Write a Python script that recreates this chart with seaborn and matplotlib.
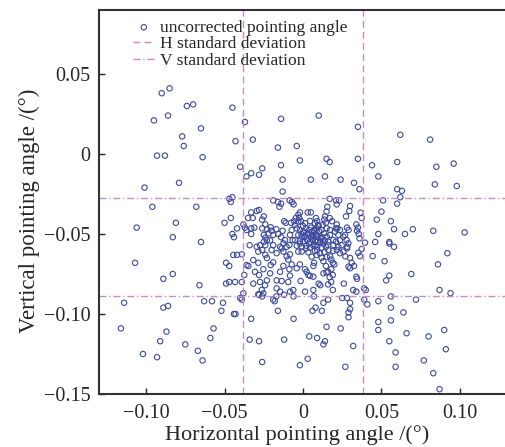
import numpy as np
import pandas as pd
import matplotlib
matplotlib.use("Agg")
import matplotlib.pyplot as plt
from matplotlib.ticker import FuncFormatter
import seaborn as sns

upper_left = [(-0.090, 0.038), (-0.085, 0.041), (-0.074, 0.030), (-0.070, 0.031), (-0.095, 0.021),
              (-0.086, 0.024), (-0.065, 0.016), (-0.077, 0.011), (-0.076, 0.005), (-0.093, -0.001),
              (-0.088, -0.001), (-0.064, -0.002), (-0.045, 0.029)]
upper_mid = [(-0.037, 0.020), (-0.014, 0.022), (0.010, 0.024), (0.035, 0.017), (-0.043, 0.008),
             (-0.032, 0.009), (-0.016, 0.004), (-0.004, 0.005), (-0.002, -0.004), (0.015, -0.003),
             (0.017, -0.005), (0.035, -0.003), (-0.014, -0.007), (-0.040, -0.008), (-0.026, -0.009),
             (-0.036, -0.014), (-0.033, -0.012), (-0.028, -0.013), (-0.013, -0.016), (0.005, -0.016),
             (0.014, -0.014), (0.024, -0.016), (0.044, -0.007), (0.048, -0.014)]
upper_right = [(0.062, 0.012), (0.081, 0.009), (0.060, -0.005), (0.085, -0.008), (0.096, -0.006)]
mid_left = [(-0.101, -0.021), (-0.079, -0.018), (-0.096, -0.033), (-0.068, -0.033), (-0.047, -0.028),
            (-0.045, -0.027), (-0.046, -0.030), (-0.106, -0.046), (-0.081, -0.043), (-0.046, -0.040),
            (-0.050, -0.043), (-0.083, -0.052), (-0.065, -0.055), (-0.045, -0.050), (-0.044, -0.052),
            (-0.107, -0.068), (-0.049, -0.068), (-0.047, -0.070), (-0.083, -0.075), (-0.089, -0.078),
            (-0.066, -0.082), (-0.049, -0.081), (-0.047, -0.080)]
low_left = [(-0.114, -0.093), (-0.089, -0.096), (-0.086, -0.095), (-0.063, -0.092), (-0.058, -0.092),
            (-0.051, -0.093), (-0.052, -0.098), (-0.044, -0.100), (-0.116, -0.109), (-0.087, -0.111),
            (-0.057, -0.109), (-0.091, -0.117), (-0.059, -0.115), (-0.075, -0.119), (-0.067, -0.123),
            (-0.102, -0.125), (-0.093, -0.127), (-0.064, -0.129)]
low_mid = [(-0.040, -0.090), (-0.039, -0.091), (-0.043, -0.100), (-0.033, -0.103), (-0.018, -0.092),
           (-0.019, -0.091), (-0.016, -0.098), (-0.026, -0.089), (-0.028, -0.088), (-0.017, -0.089),
           (-0.012, -0.088), (-0.006, -0.103), (0.007, -0.089), (0.006, -0.098), (0.008, -0.096),
           (0.012, -0.098), (0.013, -0.093), (0.016, -0.091), (0.025, -0.090), (0.028, -0.090),
           (0.030, -0.093), (0.030, -0.097), (0.029, -0.099), (0.029, -0.102), (0.039, -0.091),
           (0.041, -0.094), (0.048, -0.092), (0.048, -0.105), (0.048, -0.110), (0.015, -0.108),
           (0.024, -0.109), (-0.034, -0.116), (-0.028, -0.117), (-0.012, -0.116), (0.004, -0.114),
           (0.009, -0.115), (0.014, -0.117), (0.013, -0.119), (0.032, -0.120), (-0.026, -0.130),
           (0.003, -0.128), (-0.002, -0.132), (0.027, -0.133), (-0.006, -0.089)]
low_right = [(0.056, -0.089), (0.072, -0.091), (0.056, -0.096), (0.064, -0.099), (0.056, -0.104),
             (0.066, -0.112), (0.090, -0.110), (0.080, -0.114), (0.055, -0.117), (0.091, -0.122),
             (0.059, -0.124), (0.077, -0.129), (0.059, -0.133), (0.083, -0.137), (0.087, -0.147)]
mid_right = [(0.084, -0.019), (0.098, -0.020), (0.060, -0.022), (0.063, -0.023), (0.051, -0.029),
             (0.062, -0.027), (0.060, -0.031), (0.050, -0.036), (0.047, -0.041), (0.056, -0.042),
             (0.058, -0.047), (0.070, -0.047), (0.083, -0.048), (0.103, -0.049), (0.048, -0.050),
             (0.065, -0.050), (0.055, -0.055), (0.055, -0.056), (0.058, -0.058), (0.046, -0.055),
             (0.092, -0.062), (0.052, -0.067), (0.086, -0.069), (0.055, -0.076), (0.053, -0.079),
             (0.069, -0.075), (0.087, -0.085), (0.094, -0.087)]
centre_top = [(0.0325, -0.018), (0.036, -0.022), (-0.013, -0.0235), (-0.019, -0.029), (-0.016, -0.030),
              (-0.014, -0.031), (-0.015, -0.033), (-0.0085, -0.029), (-0.007, -0.030), (-0.006, -0.0315),
              (0.0155, -0.033), (0.017, -0.028), (0.021, -0.029), (0.023, -0.029), (0.0215, -0.0315),
              (0.030, -0.0325), (-0.028, -0.035), (-0.0295, -0.0356), (-0.033, -0.0365), (-0.025, -0.039),
              (-0.026, -0.041), (-0.035, -0.040), (-0.032, -0.040), (-0.042, -0.0465), (-0.038, -0.044),
              (-0.037, -0.046), (-0.036, -0.0475), (-0.033, -0.0465), (-0.031, -0.046), (-0.033, -0.050),
              (-0.024, -0.044), (-0.023, -0.047), (-0.026, -0.0465), (0.015, -0.036), (0.0295, -0.0356),
              (0.0274, -0.039), (0.0374, -0.040), (0.0367, -0.0367)]
centre_mid = [(-0.025, -0.0506), (-0.024, -0.0523), (-0.022, -0.0496), (-0.0206, -0.0458), (-0.020, -0.048),
              (-0.019, -0.0506), (-0.021, -0.054), (-0.017, -0.047), (-0.0157, -0.050), (-0.014, -0.052),
              (-0.013, -0.048), (-0.012, -0.042), (-0.011, -0.043), (-0.0076, -0.043), (-0.0057, -0.042),
              (-0.0046, -0.040), (-0.003, -0.038), (-0.0019, -0.0365), (-0.0024, -0.040), (-0.0013, -0.042),
              (0.003, -0.0365), (0.005, -0.0365), (0.0083, -0.040), (0.009, -0.042), (0.014, -0.039),
              (0.0136, -0.041), (0.0146, -0.043), (0.017, -0.040), (0.0185, -0.042), (0.0215, -0.044),
              (0.021, -0.0465), (0.034, -0.044), (0.035, -0.046), (0.0344, -0.048), (0.0355, -0.050),
              (0.036, -0.0527), (0.028, -0.046), (0.029, -0.0475), (0.0395, -0.0554), (0.0444, -0.0638),
              (0.0374, -0.0594), (0.0352, -0.0617), (0.0363, -0.0638), (0.0257, -0.061), (0.027, -0.064),
              (0.028, -0.059), (0.0246, -0.057), (0.021, -0.0548), (0.0225, -0.058), (0.0236, -0.062),
              (0.0193, -0.0606), (-0.034, -0.057), (-0.0295, -0.058), (-0.0274, -0.057), (-0.026, -0.060),
              (-0.0285, -0.061), (-0.019, -0.057), (-0.020, -0.060), (-0.0168, -0.062), (-0.0146, -0.058),
              (-0.0136, -0.059), (-0.0125, -0.061), (-0.0104, -0.064), (-0.0083, -0.0627), (-0.0094, -0.066),
              (-0.024, -0.057), (-0.023, -0.054), (-0.025, -0.055), (-0.042, -0.063), (-0.039, -0.0627),
              (-0.0444, -0.0631)]
centre_core = [(-0.004, -0.0465), (-0.0019, -0.0475), (0.0002, -0.0485), (0.0019, -0.0465), (0.004, -0.0475),
               (0.0055, -0.049), (0.007, -0.0475), (0.0087, -0.0465), (0.0104, -0.0485), (0.0119, -0.0475),
               (0.0134, -0.0496), (-0.003, -0.0506), (-0.0008, -0.0517), (0.0013, -0.0511), (0.0034, -0.0502),
               (0.0051, -0.0517), (0.0066, -0.0511), (0.0083, -0.0502), (0.0097, -0.0517), (0.0113, -0.0527),
               (0.0151, -0.0517), (0.0172, -0.0506), (-0.0051, -0.0538), (-0.0019, -0.0544), (0.0002, -0.0548),
               (0.0027, -0.0538), (0.0045, -0.0548), (0.0062, -0.0538), (0.0078, -0.0548), (0.0094, -0.0542),
               (0.0108, -0.0554), (0.0129, -0.0544), (0.0161, -0.0548), (0.0193, -0.0538), (-0.004, -0.0573),
               (-0.0008, -0.058), (0.0019, -0.0573), (0.0045, -0.0585), (0.0066, -0.0573), (0.0091, -0.058),
               (0.0119, -0.0585), (0.0146, -0.058), (-0.0008, -0.061), (0.0034, -0.0614), (0.0076, -0.0606),
               (0.0108, -0.0621), (0.0055, -0.0642), (-0.0051, -0.0444), (-0.003, -0.0423), (0.0013, -0.0433),
               (0.0045, -0.0419), (0.0076, -0.0433), (0.0097, -0.0444), (0.0125, -0.0444), (0.0151, -0.0465),
               (0.0172, -0.0475), (-0.0072, -0.0475), (-0.0083, -0.0506), (-0.0066, -0.0538), (-0.0087, -0.0569),
               (-0.0115, -0.0538), (-0.0125, -0.0558), (-0.0104, -0.058), (0.0204, -0.0485), (0.0225, -0.0506),
               (0.0236, -0.0538), (0.0257, -0.0517), (0.0193, -0.0569), (0.0215, -0.060), (0.0278, -0.0538),
               (0.0289, -0.0558), (0.0282, -0.058), (0.0268, -0.0506), (0.0236, -0.0475), (0.0219, -0.0465),
               (0.0087, -0.0631), (0.0119, -0.0648), (0.0151, -0.0642), (0.0136, -0.0614), (0.0161, -0.060),
               (0.001, -0.052), (0.003, -0.050), (0.006, -0.053), (0.009, -0.051), (0.012, -0.052),
               (-0.002, -0.056), (0.004, -0.056), (0.008, -0.057), (0.011, -0.055), (0.014, -0.054),
               (0.000, -0.045), (0.005, -0.046), (0.010, -0.045), (-0.001, -0.050), (0.007, -0.048),
               (0.013, -0.056), (0.002, -0.059), (0.009, -0.060), (0.016, -0.057), (-0.003, -0.061)]
centre_low = [(0.030, -0.065), (0.031, -0.068), (0.0325, -0.070), (0.029, -0.0704), (0.030, -0.0714),
              (0.034, -0.0767), (0.0344, -0.078), (0.026, -0.081), (0.032, -0.085), (0.034, -0.086),
              (0.039, -0.084), (0.040, -0.085), (0.0172, -0.064), (0.018, -0.066), (0.019, -0.068),
              (0.020, -0.069), (0.018, -0.072), (0.016, -0.0736), (0.013, -0.067), (0.0146, -0.070),
              (0.015, -0.074), (0.013, -0.0746), (0.017, -0.077), (0.018, -0.080), (0.019, -0.0756),
              (0.007, -0.068), (0.0066, -0.070), (0.0034, -0.0756), (0.011, -0.082), (0.010, -0.081),
              (0.016, -0.0815), (0.019, -0.085), (0.0066, -0.0767), (0.0013, -0.072), (0.0023, -0.0736),
              (-0.002, -0.069), (-0.004, -0.0714), (-0.0072, -0.069), (-0.0087, -0.072), (-0.0125, -0.070),
              (-0.0146, -0.0736), (-0.019, -0.0677), (-0.0206, -0.0694), (-0.023, -0.065), (-0.024, -0.063),
              (-0.0317, -0.0663), (-0.036, -0.0694), (-0.0285, -0.068), (-0.0253, -0.072), (-0.0306, -0.0736),
              (-0.028, -0.0756), (-0.021, -0.0746), (-0.0374, -0.0756), (-0.0348, -0.070), (-0.0317, -0.081),
              (-0.0274, -0.080), (-0.0242, -0.082), (-0.023, -0.079), (-0.0168, -0.079), (-0.0136, -0.0794),
              (-0.0094, -0.080), (-0.0083, -0.076), (-0.0015, -0.0794), (0.0045, -0.0762), (-0.0168, -0.084),
              (-0.0146, -0.086), (-0.0083, -0.086), (-0.0062, -0.085), (0.0013, -0.086), (0.0066, -0.085),
              (-0.0263, -0.085), (-0.0253, -0.0871), (-0.0285, -0.0877), (-0.039, -0.080), (-0.038, -0.087),
              (-0.0433, -0.080)]

# mean +/- std lines
h_std_lines = [-0.0382, 0.0382]
v_std_lines = [-0.0277, -0.0888]

x_ticks = [-0.10, -0.05, 0, 0.05, 0.10]
y_ticks = [-0.15, -0.10, -0.05, 0, 0.05]

groups = [upper_left, upper_mid, upper_right, mid_left, low_left, low_mid, low_right,
          mid_right, centre_top, centre_mid, centre_core, centre_low]
pts = [p for g in groups for p in g]
df = pd.DataFrame(pts, columns=["h", "v"])

sns.set_style("ticks")
plt.rcParams["font.family"] = ["Liberation Serif", "DejaVu Serif"]

fig = plt.figure(figsize=(5.05, 4.47), dpi=100)
ax = fig.add_axes([99 / 505, 53 / 447, 408 / 505, 384 / 447])

line_col = "#c98ac6"
sns.scatterplot(data=df, x="h", y="v", ax=ax, marker="o", s=15, facecolor="none",
                edgecolor="#3d4b9e", linewidth=0.8, label="uncorrected pointing angle")
for i, xv in enumerate(h_std_lines):
    ax.axvline(xv, color=line_col, ls=(0, (5, 3)), lw=1.0,
               label="H standard deviation" if i == 0 else None)
for i, yv in enumerate(v_std_lines):
    ax.axhline(yv, color=line_col, ls=(0, (5, 2, 1, 2)), lw=1.0,
               label="V standard deviation" if i == 0 else None)


def fmt(v, pos):
    if abs(v) < 1e-9:
        return "0"
    return ("\u2212" if v < 0 else "") + f"{abs(v):.2f}"


ax.set_xlim(-0.13, 0.13)
ax.set_ylim(-0.15, 0.09)
ax.set_xticks(x_ticks)
ax.set_yticks(y_ticks)
ax.xaxis.set_major_formatter(FuncFormatter(fmt))
ax.yaxis.set_major_formatter(FuncFormatter(fmt))
ax.tick_params(direction="in", length=4, width=1, labelsize=14.5, pad=7)
ax.tick_params(axis="y", pad=6)
for sp in ax.spines.values():
    sp.set_linewidth(1.5)
    sp.set_color("#333333")

ax.set_xlabel("Horizontal pointing angle /(°)", fontsize=16)
ax.set_ylabel("Vertical pointing angle /(°)", fontsize=16.5)
ax.xaxis.set_label_coords(0.4845, -0.082)
ax.yaxis.set_label_coords(-0.145, 0.477)

ax.legend(loc="upper left", bbox_to_anchor=(0.083, 0.975), frameon=False, fontsize=12.6,
          handlelength=1.25, handletextpad=0.3, labelspacing=0.02, borderpad=0,
          borderaxespad=0)

fig.savefig("out.png", dpi=100)
